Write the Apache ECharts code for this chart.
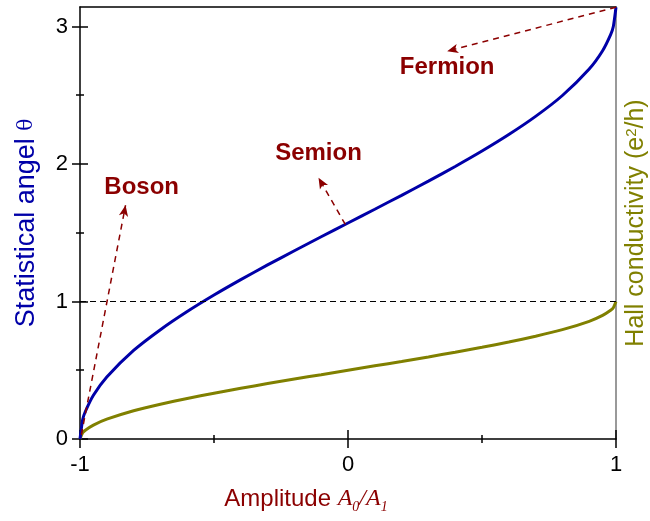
<!DOCTYPE html>
<html>
<head>
<meta charset="utf-8">
<script src="https://cdn.jsdelivr.net/npm/echarts@6/dist/echarts.min.js"></script>
<style>
  html, body { margin: 0; padding: 0; background: #fff; }
  #main { width: 650px; height: 521px; }
</style>
</head>
<body>
<div id="main"></div>
<script>
// amplitude A0/A1
var xs = [-1, -0.99, -0.98, -0.95, -0.9, -0.8, -0.7, -0.6, -0.5, -0.4, -0.3, -0.2, -0.1, 0,
          0.1, 0.2, 0.3, 0.4, 0.5, 0.6, 0.7, 0.8, 0.9, 0.95, 0.98, 0.99, 1];
// statistical angle theta
var theta = [0, 0.142, 0.200, 0.318, 0.451, 0.644, 0.795, 0.927, 1.047, 1.159, 1.266, 1.369, 1.471, 1.571,
             1.671, 1.772, 1.875, 1.982, 2.094, 2.214, 2.346, 2.498, 2.691, 2.824, 2.941, 3.000, 3.14];
// hall conductivity (e^2/h)
var hall = [0, 0.045, 0.064, 0.101, 0.144, 0.205, 0.253, 0.295, 0.333, 0.369, 0.403, 0.436, 0.468, 0.500,
            0.532, 0.564, 0.597, 0.631, 0.667, 0.705, 0.747, 0.795, 0.856, 0.899, 0.936, 0.955, 1.0];

var xMajor = [-1, 0, 1];
var xMinor = [-0.5, 0.5];
var yMajor = [0, 1, 2, 3];
var yMinor = [0.5, 1.5, 2.5];

// annotations
var labels = ['Boson', 'Semion', 'Fermion'];
var labelPos = [[-0.77, 1.83], [-0.11, 2.08], [0.37, 2.70]];
var arrowFrom = [[-0.995, 0.03], [-0.01, 1.56], [1, 3.14]];
var arrowTo = [[-0.83, 1.70], [-0.11, 1.90], [0.37, 2.82]];

var myChart = echarts.init(document.getElementById('main'));

var font = 'Liberation Sans, Arial, sans-serif';
var dark = '#8b0000';
var blue = '#0000a8';
var olive = '#808000';

function tickAxis(base, vals, len, inside, extra) {
    var a = Object.assign({
        type: 'value',
        axisLine: { show: false, onZero: false },
        axisLabel: { show: false },
        splitLine: { show: false },
        axisTick: {
            show: true, inside: inside, length: len, customValues: vals,
            lineStyle: { color: '#000', width: 1.5 }
        }
    }, base);
    return Object.assign(a, extra || {});
}

var xb = { min: -1, max: 1, position: 'bottom' };
var yb = { min: 0, max: Math.PI, position: 'left' };

var option = {
    animation: false,
    backgroundColor: '#fff',
    grid: { left: 80, right: 34, top: 7, bottom: 82, outerBoundsMode: 'none', containLabel: false },
    xAxis: [
        tickAxis(xb, xMajor, 9, false, {
            axisLine: { show: true, onZero: false, lineStyle: { color: '#000', width: 1.5 } },
            axisLabel: {
                show: true, customValues: xMajor, color: '#000', fontSize: 22,
                fontFamily: font, margin: 15
            },
            name: 'Amplitude {a|A}{s|0}{a|/A}{s|1}',
            nameLocation: 'middle',
            nameGap: 45,
            nameTextStyle: {
                color: dark, fontSize: 24, fontFamily: font, padding: [0, 84, 0, 0],
                rich: {
                    a: { color: dark, fontSize: 24, fontFamily: 'Liberation Serif', fontStyle: 'italic', lineHeight: 30 },
                    s: { color: dark, fontSize: 14, fontFamily: 'Liberation Serif', fontStyle: 'italic', verticalAlign: 'bottom', lineHeight: 14 }
                }
            }
        }),
        tickAxis(xb, xMajor, 9, true),
        tickAxis(xb, xMinor, 4, false),
        tickAxis(xb, xMinor, 4, true),
        {
            type: 'value', min: -1, max: 1, position: 'top',
            axisLine: { show: true, onZero: false, lineStyle: { color: '#000', width: 1.5 } },
            axisTick: { show: false }, axisLabel: { show: false }, splitLine: { show: false }
        }
    ],
    yAxis: [
        tickAxis(yb, yMajor, 8, false, {
            axisLine: { show: true, onZero: false, lineStyle: { color: '#000', width: 1.5 } },
            axisLabel: {
                show: true, customValues: yMajor, color: '#000', fontSize: 22,
                fontFamily: font, margin: 12
            },
            name: 'Statistical angel {t|θ}',
            nameLocation: 'middle',
            nameRotate: 90,
            nameGap: 40,
            nameTextStyle: {
                color: blue, fontSize: 27, fontFamily: font,
                rich: { t: { color: blue, fontSize: 20, fontFamily: 'DejaVu Serif' } }
            }
        }),
        tickAxis(yb, yMajor, 8, true),
        tickAxis(yb, yMinor, 4, false),
        tickAxis(yb, yMinor, 4, true),
        {
            type: 'value', min: 0, max: Math.PI, position: 'right',
            axisLine: { show: true, onZero: false, lineStyle: { color: '#777', width: 1.5 } },
            axisTick: { show: false }, axisLabel: { show: false }, splitLine: { show: false },
            name: 'Hall conductivity (e{u|2}/h)',
            nameLocation: 'middle',
            nameRotate: 90,
            nameGap: 8,
            nameTextStyle: {
                color: olive, fontSize: 25, fontFamily: font,
                rich: {
                    u: { color: olive, fontSize: 15, fontFamily: font, verticalAlign: 'top', lineHeight: 14 }
                }
            }
        }
    ],
    series: [
        {
            name: 'Hall conductivity',
            type: 'line',
            showSymbol: false,
            smooth: 0.2,
            data: xs.map(function (x, i) { return [x, hall[i]]; }),
            lineStyle: { color: olive, width: 3 },
            itemStyle: { color: olive },
            markLine: {
                silent: true,
                symbol: 'none',
                label: { show: false },
                lineStyle: { color: '#000', type: [6, 4], width: 1 },
                data: [{ yAxis: 1 }]
            }
        },
        {
            name: 'Statistical angle',
            type: 'line',
            showSymbol: false,
            smooth: 0.2,
            data: xs.map(function (x, i) { return [x, theta[i]]; }),
            lineStyle: { color: blue, width: 3 },
            itemStyle: { color: blue },
            markLine: {
                silent: true,
                symbol: ['none', 'arrow'],
                symbolSize: [7, 11],
                label: { show: false },
                lineStyle: { color: dark, type: [6, 5], width: 1.5 },
                data: arrowFrom.map(function (p, i) {
                    return [{ coord: p }, { coord: arrowTo[i] }];
                })
            },
            markPoint: {
                silent: true,
                symbol: 'circle',
                symbolSize: 0,
                label: {
                    show: true, position: 'inside', formatter: '{b}',
                    color: dark, fontSize: 24, fontWeight: 'bold', fontFamily: font
                },
                data: labels.map(function (n, i) {
                    return { name: n, coord: labelPos[i] };
                })
            }
        }
    ]
};

myChart.setOption(option);
window.addEventListener('resize', function () {
    myChart.resize();
});
</script>
</body>
</html>
